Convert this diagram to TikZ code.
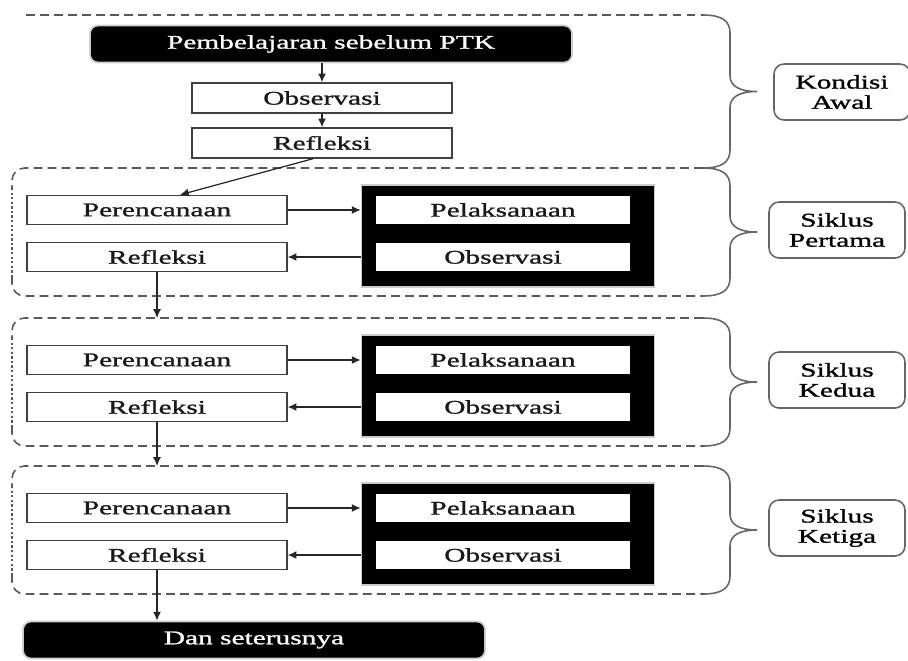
\documentclass[tikz,border=0pt]{standalone}
\usepackage{fontspec}
\setmainfont[FakeStretch=1.52,FakeBold=1.2]{Liberation Serif}
\usetikzlibrary{positioning,arrows.meta}

\newcommand{\sidebrace}[2]{%
  \draw[bracestyle] (703,#1) .. controls (722,#1) and (730,{#1+6}) .. (730,{#1+18})
    -- (730,{(#1+#2)/2-16}) .. controls (730,{(#1+#2)/2-5}) and (740,{(#1+#2)/2}) .. (757,{(#1+#2)/2})
    .. controls (740,{(#1+#2)/2}) and (730,{(#1+#2)/2+5}) .. (730,{(#1+#2)/2+16})
    -- (730,{#2-18}) .. controls (730,{#2-6}) and (722,#2) .. (703,#2);}
\newcommand{\regionbox}[2]{%
  \draw[dashline,rounded corners=0.25cm] (703,#1) -- (12,#1) -- (12,{#1+20});
  \draw[dotline] (12,{#1+20}) -- (12,{#2-20});
  \draw[dashline,rounded corners=0.25cm] (12,{#2-20}) -- (12,#2) -- (703,#2);}

\begin{document}
\begin{tikzpicture}[x=0.02cm,y=-0.02cm,font=\fontsize{11}{11.5}\selectfont]
  \tikzset{
    box/.style={draw=black!75,line width=0.8pt,fill=white,text=black!90,inner sep=0pt,
      minimum width=5.2cm,minimum height=0.58cm},
    innerbox/.style={box,draw=none,minimum width=5.08cm,minimum height=0.56cm},
    darkbox/.style={fill=black,draw=black!20,line width=1pt,inner sep=0pt,
      minimum width=5.86cm,minimum height=2.04cm},
    endbox/.style={fill=black,draw=black!20,line width=1pt,rounded corners=0.16cm,
      text=white,inner sep=0pt,minimum height=0.74cm},
    tagbox/.style={draw=black!60,line width=0.9pt,rounded corners=0.2cm,align=center,
      minimum width=2.72cm,minimum height=1.12cm,inner sep=0pt},
    arr/.style={-{Latex[length=5pt,width=4.5pt]},line width=0.7pt,black!85},
    dashline/.style={draw=black!65,line width=0.9pt,dash pattern=on 5pt off 3pt},
    dotline/.style={draw=black!65,line width=1.3pt,dash pattern=on 1.3pt off 1.3pt},
    bracestyle/.style={draw=black!60,line width=0.9pt}
  }
  \useasboundingbox (0,0) rectangle (908,660);

  \draw[dashline] (26,15) -- (703,15);
  \sidebrace{15}{168}
  \node[endbox,minimum width=9.64cm] (pemb) at (331,44) {Pembelajaran sebelum PTK};
  \node[box,minimum height=0.6cm] (obs0) at (322,98) {Observasi};
  \node[box,minimum height=0.6cm] (ref0) at (322,143) {Refleksi};
  \node[tagbox] (awal) at (842,92) {Kondisi\\Awal};
  \draw[arr] (pemb.south -| obs0.north) -- (obs0.north);
  \draw[arr] (obs0) -- (ref0);

  \foreach \i/\yy/\cyc in {1/168/Pertama,2/318/Kedua,3/466/Ketiga}{
    \regionbox{\yy}{\yy+128}
    \sidebrace{\yy}{\yy+128}
    \coordinate (in\i) at (157,\yy);
    \node[box] (per\i) at (157,\yy+42) {Perencanaan};
    \node[box] (ref\i) at (157,\yy+89) {Refleksi};
    \node[darkbox] (blk\i) at (508,\yy+68) {};
    \node[innerbox] (pel\i) at (503,\yy+42) {Pelaksanaan};
    \node[innerbox] (obs\i) at (503,\yy+89) {Observasi};
    \node[tagbox] (tag\i) at (837,\yy+62) {Siklus\\\cyc};
    \draw[arr] (per\i.east) -- (per\i.east -| blk\i.west);
    \draw[arr] (blk\i.west |- ref\i.east) -- (ref\i.east);
  }

  \node[endbox,minimum width=9.24cm] (dan) at (254,640) {Dan seterusnya};

  \draw[arr] ([xshift=-0.18cm]ref0.south) -- ([xshift=0.46cm]per1.north);
  \draw[arr] (ref1) -- (in2);
  \draw[arr] (ref2) -- (in3);
  \draw[arr] (ref3) -- (ref3 |- dan.north);
\end{tikzpicture}
\end{document}
